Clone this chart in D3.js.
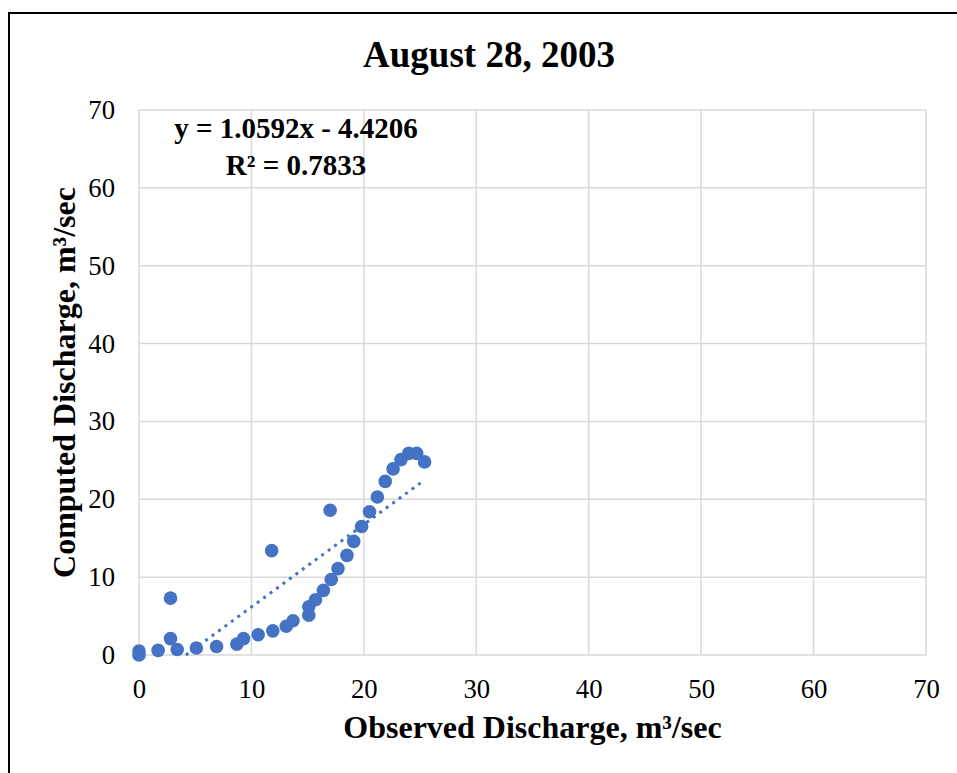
<!DOCTYPE html>
<html>
<head>
<meta charset="utf-8">
<script src="https://cdn.jsdelivr.net/npm/d3@7"></script>
<style>
  body { margin: 0; background: #fff; }
  svg text { font-family: "Liberation Serif", "Times New Roman", serif; fill: #000; }
  .grid line { stroke: #d9d9d9; stroke-width: 1.5; }
  .axis path, .axis line { display: none; }
</style>
</head>
<body>
<svg id="chart"></svg>
<script>
// observed vs computed discharge, m3/sec
const observed = [0.0, 0.0, 1.7, 2.8, 2.8, 3.4, 5.1, 6.9, 8.7, 9.3, 10.6, 11.9, 11.8,
  13.1, 13.7, 15.1, 15.1, 15.7, 16.4, 17.1, 17.0, 17.7, 18.5, 19.1, 19.8, 20.5,
  21.2, 21.9, 22.6, 23.3, 24.0, 24.7, 25.4];
const computed = [0.5, 0.0, 0.6, 7.3, 2.1, 0.7, 0.9, 1.1, 1.4, 2.1, 2.6, 3.1, 13.4,
  3.7, 4.4, 5.1, 6.2, 7.1, 8.3, 9.7, 18.6, 11.1, 12.8, 14.6, 16.5, 18.4,
  20.3, 22.3, 23.9, 25.1, 25.9, 25.9, 24.8];
const slope = 1.0592;
const intercept = -4.4206;
const rSquared = 0.7833;
const ticks = [0, 10, 20, 30, 40, 50, 60, 70];

const W = 957, H = 773;
const margin = { top: 110, right: 31, bottom: 118, left: 139 };
const width = W - margin.left - margin.right;
const height = H - margin.top - margin.bottom;
const serif = '"Liberation Serif", "Times New Roman", serif';

const svg = d3.select('#chart').attr('width', W).attr('height', H);

// chart frame
svg.append('rect')
  .attr('x', 9).attr('y', 13)
  .attr('width', 980).attr('height', 800)
  .attr('fill', 'none').attr('stroke', '#000').attr('stroke-width', 2);

const g = svg.append('g').attr('transform', 'translate(' + margin.left + ',' + margin.top + ')');

const x = d3.scaleLinear().domain([0, 70]).range([0, width]);
const y = d3.scaleLinear().domain([0, 70]).range([height, 0]);

g.append('g').attr('class', 'grid')
  .selectAll('line.v').data(ticks).enter().append('line')
  .attr('x1', (d) => x(d)).attr('x2', (d) => x(d))
  .attr('y1', 0).attr('y2', height);
g.append('g').attr('class', 'grid')
  .selectAll('line.h').data(ticks).enter().append('line')
  .attr('x1', 0).attr('x2', width)
  .attr('y1', (d) => y(d)).attr('y2', (d) => y(d));

g.append('g')
  .attr('class', 'axis')
  .attr('font-family', serif)
  .attr('transform', 'translate(0,' + height + ')')
  .call(d3.axisBottom(x).tickValues(ticks).tickSize(0).tickPadding(43))
  .selectAll('text').style('font-size', '26.7px').style('font-family', serif).attr('dy', 0);

g.append('g')
  .attr('class', 'axis')
  .attr('font-family', serif)
  .call(d3.axisLeft(y).tickValues(ticks).tickSize(0).tickPadding(24))
  .selectAll('text').style('font-size', '26.7px').style('font-family', serif).attr('dy', '0.32em');

// trendline
const tx0 = Math.max(d3.min(observed), -intercept / slope);
const tx1 = d3.max(observed);
g.append('line')
  .attr('x1', x(tx0)).attr('y1', y(slope * tx0 + intercept))
  .attr('x2', x(tx1)).attr('y2', y(slope * tx1 + intercept))
  .attr('stroke', '#4472c4').attr('stroke-width', 3)
  .attr('stroke-dasharray', '3,5');

g.selectAll('circle').data(observed).enter().append('circle')
  .attr('cx', (d) => x(d))
  .attr('cy', (d, i) => y(computed[i]))
  .attr('r', 6.8)
  .attr('fill', '#4472c4');

// equation label
const eq = svg.append('text')
  .attr('text-anchor', 'middle')
  .style('font-size', '29px').style('font-weight', 'bold');
eq.append('tspan').attr('x', 296).attr('y', 138)
  .text('y = ' + slope.toFixed(4) + 'x - ' + Math.abs(intercept).toFixed(4));
eq.append('tspan').attr('x', 296).attr('y', 175)
  .text('R² = ' + rSquared.toFixed(4));

svg.append('text')
  .attr('x', 489).attr('y', 67)
  .attr('text-anchor', 'middle')
  .style('font-size', '37px').style('font-weight', 'bold')
  .text('August 28, 2003');

svg.append('text')
  .attr('x', margin.left + width / 2).attr('y', 738)
  .attr('text-anchor', 'middle')
  .style('font-size', '32px').style('font-weight', 'bold')
  .text('Observed Discharge, m³/sec');

svg.append('text')
  .attr('transform', 'translate(75,' + (margin.top + height / 2) + ') rotate(-90)')
  .attr('text-anchor', 'middle')
  .style('font-size', '32px').style('font-weight', 'bold')
  .text('Computed Discharge, m³/sec');
</script>
</body>
</html>
